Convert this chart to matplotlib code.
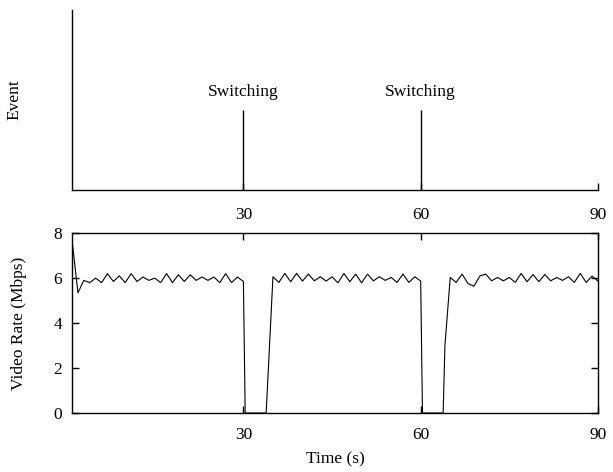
import numpy as np
import matplotlib.pyplot as plt

plt.rcParams['font.family'] = ['Liberation Serif', 'DejaVu Serif']
plt.rcParams['font.size'] = 12.5

# switching events
event_t = [30, 60]
event_h = [1, 1]

# video rate samples (time in s, rate in Mbps)
t1 = list(range(1, 31))
r1 = [7.7, 5.35, 5.9, 5.8, 6.0, 5.8, 6.2, 5.85, 6.1, 5.8,
      6.2, 5.85, 6.05, 5.9, 6.0, 5.8, 6.2, 5.8, 6.15, 5.85,
      6.15, 5.9, 6.05, 5.9, 6.05, 5.8, 6.2, 5.8, 6.05, 5.85]
t_gap1 = [30.3, 33.85]
r_gap1 = [0, 0]
t2 = list(range(35, 61))
r2 = [6.06, 5.81, 6.21, 5.84, 6.21, 5.87, 6.18, 5.88, 6.06, 5.87,
      6.06, 5.79, 6.21, 5.84, 6.18, 5.79, 6.18, 5.88, 6.06, 5.9,
      6.03, 5.81, 6.18, 5.81, 6.06, 5.87]
t_gap2 = [60.3, 63.8, 64.1]
r_gap2 = [0, 0, 3.0]
t3 = list(range(65, 91))
r3 = [6.03, 5.81, 6.18, 5.76, 5.64, 6.09, 6.18, 5.88, 6.03, 5.88,
      6.03, 5.81, 6.21, 5.84, 6.16, 5.84, 6.16, 5.88, 6.03, 5.9,
      6.06, 5.81, 6.21, 5.81, 6.09, 5.87]

t = t1 + t_gap1 + t2 + t_gap2 + t3
rate = r1 + r_gap1 + r2 + r_gap2 + r3

fig = plt.figure(figsize=(6.13, 4.72), dpi=100)
ax1 = fig.add_axes([0.1175, 0.5975, 0.858, 0.381])
ax2 = fig.add_axes([0.1175, 0.125, 0.858, 0.381])

# top: events
ax1.vlines(event_t, 0, event_h, color='k', lw=1.0)
for x in event_t:
    ax1.text(x, 1.12, 'Switching', ha='center', va='bottom')
ax1.set_xlim(1, 90)
ax1.set_ylim(0, 2.25)
ax1.set_xticks([30, 60, 90])
ax1.set_yticks([])
ax1.spines['top'].set_visible(False)
ax1.spines['right'].set_visible(False)
for s in ['left', 'bottom']:
    ax1.spines[s].set_linewidth(1.0)
ax1.tick_params(axis='x', direction='in', length=5, width=1.0, pad=12)
ax1.set_ylabel('Event')
ax1.yaxis.set_label_coords(-0.095, 0.5)

# bottom: video rate
ax2.plot(t, rate, color='k', lw=0.8)
ax2.set_xlim(1, 90)
ax2.set_ylim(0, 8)
ax2.set_xticks([30, 60, 90])
ax2.set_yticks([0, 2, 4, 6, 8])
for s in ax2.spines.values():
    s.set_linewidth(1.0)
ax2.tick_params(direction='in', length=5, width=1.0, top=True, right=True)
ax2.tick_params(axis='x', pad=10)
ax2.tick_params(axis='y', pad=7)
ax2.set_xlabel('Time (s)', labelpad=6)
ax2.set_ylabel('Video Rate (Mbps)')
ax2.yaxis.set_label_coords(-0.086, 0.5)

fig.savefig('out.png', dpi=100)
